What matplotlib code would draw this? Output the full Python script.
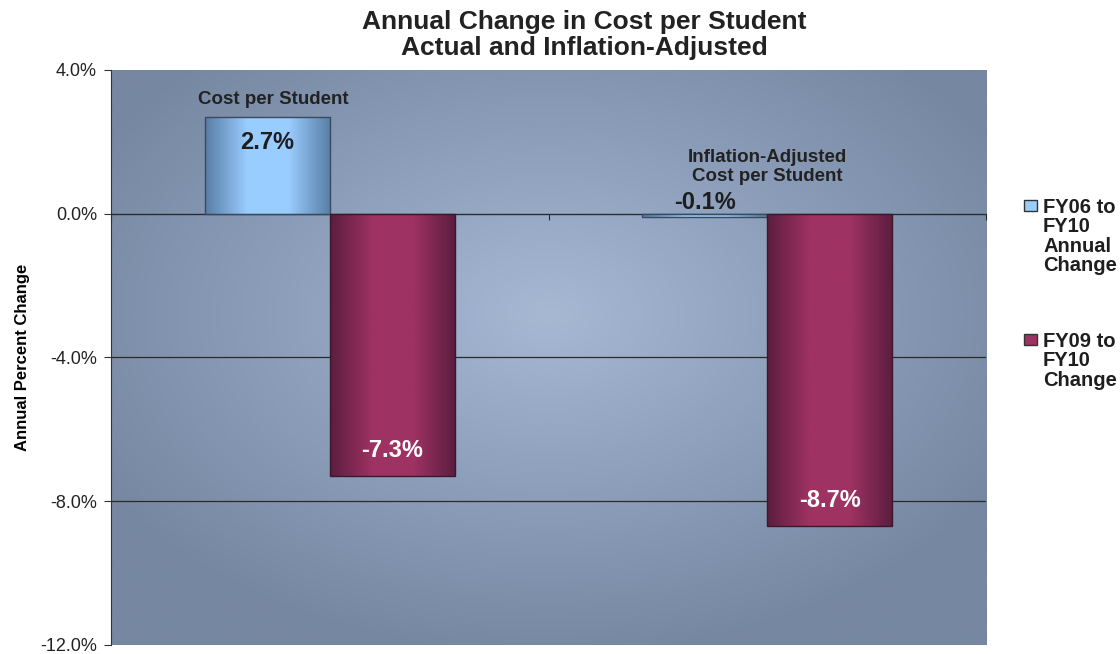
import numpy as np
import matplotlib.pyplot as plt
from matplotlib.colors import LinearSegmentedColormap
from matplotlib.patches import Rectangle

plt.rcParams['font.family'] = ['Liberation Sans', 'DejaVu Sans']

categories = ['Cost per Student', 'Inflation-Adjusted\nCost per Student']
series_names = ['FY06 to\nFY10\nAnnual\nChange', 'FY09 to\nFY10\nChange']
series_colors = ['#99ccff', '#9e3262']
fy06_fy10 = [2.7, -0.1]
fy09_fy10 = [-7.3, -8.7]
yticks = [4, 0, -4, -8, -12]

blue_cmap = LinearSegmentedColormap.from_list('b', ['#5a7ea6', '#99ccff', '#99ccff', '#5a7ea6'])
purple_cmap = LinearSegmentedColormap.from_list('p', ['#5c1e40', '#9e3262', '#9e3262', '#5c1e40'])
bg_cmap = LinearSegmentedColormap.from_list('bg', ['#a6b8d2', '#8d9fbb', '#7687a1'])

fig = plt.figure(figsize=(11.2, 6.54), dpi=100)
ax = fig.add_axes([0.0991, 0.0138, 0.7813, 0.8792])
ax.set_xlim(-0.5, 1.5)
ax.set_ylim(-12, 4)

# radial background
gx, gy = np.meshgrid(np.linspace(-1, 1, 300), np.linspace(-1, 1, 300))
r = np.sqrt(gx ** 2 + (gy - 0.15) ** 2)
ax.imshow(np.clip(r, 0, 1.2), cmap=bg_cmap, extent=[-0.5, 1.5, -12, 4],
          aspect='auto', origin='lower', zorder=0, vmin=0, vmax=1.2)

for y in [0, -4, -8]:
    ax.axhline(y, color='#2a2a2a', lw=0.9, zorder=1)

w = 0.286
x = np.arange(len(categories))
grad = np.linspace(0, 1, 100).reshape(1, -1)


def grad_bars(xs, vals, cmap, edge):
    bars = ax.bar(xs, vals, w, facecolor='none', edgecolor=edge, lw=1.0, zorder=3)
    for b in bars:
        x0, y0 = b.get_x(), b.get_y()
        im = ax.imshow(grad, cmap=cmap, extent=[x0, x0 + b.get_width(), y0, y0 + b.get_height()],
                       aspect='auto', zorder=2)
        im.set_clip_path(b)
    return bars


grad_bars(x - w / 2, fy06_fy10, blue_cmap, '#3a4a5e')
grad_bars(x + w / 2, fy09_fy10, purple_cmap, '#3a1a2a')

# value labels
for xi, v in zip(x - w / 2, fy06_fy10):
    ypos = v - 0.72 if v > 1 else 0.3
    ax.text(xi, ypos, f'{v:.1f}%', ha='center', va='center', fontsize=17,
            fontweight='bold', color='#1e1e1e', zorder=5)
for xi, v in zip(x + w / 2, fy09_fy10):
    ax.text(xi, v + 0.72, f'{v:.1f}%', ha='center', va='center', fontsize=17,
            fontweight='bold', color='white', zorder=5)

# category labels
ax.text(x[0] - 0.13, 3.17, categories[0], ha='center', va='center', fontsize=13.5,
        fontweight='bold', color='#222222', zorder=5)
ax.text(x[1], 1.3, categories[1], ha='center', va='center', fontsize=13.5,
        fontweight='bold', color='#222222', zorder=5, linespacing=1.1)

ax.set_yticks(yticks)
ax.set_yticklabels([f'{t:.1f}%' for t in yticks], fontsize=13, color='#222222')
ax.tick_params(axis='y', length=5, width=0.8, color='#333333', pad=5)

# category axis sits on the zero line
ax.spines['bottom'].set_position(('data', 0))
ax.spines['bottom'].set_color('#2a2a2a')
ax.set_xticks([-0.5, 0.5, 1.5])
ax.set_xticklabels([])
ax.tick_params(axis='x', length=4, width=0.8, color='#2a2a2a')
ax.spines['top'].set_visible(False)
ax.spines['right'].set_visible(False)
ax.spines['left'].set_color('#333333')

ax.set_ylabel('Annual Percent Change', fontsize=12, fontweight='bold',
              family=['Liberation Sans Narrow', 'Liberation Sans'])
ax.yaxis.set_label_coords(-0.092, 0.5)

fig.text(584 / 1120, 1 - 35 / 654, 'Annual Change in Cost per Student\nActual and Inflation-Adjusted',
         ha='center', va='center', fontsize=19, fontweight='bold', color='#222222',
         linespacing=1.08)

# legend on the right
for i, (name, col) in enumerate(zip(series_names, series_colors)):
    top = 198 + 134 * i
    fig.add_artist(Rectangle((1024 / 1120, 1 - (top + 13) / 654), 13 / 1120, 11 / 654,
                             transform=fig.transFigure, facecolor=col,
                             edgecolor='#333333', lw=1.0))
    fig.text(1043 / 1120, 1 - top / 654, name, ha='left', va='top', fontsize=14.5,
             fontweight='bold', color='#1e1e1e', linespacing=1.02)

fig.savefig('out.png', dpi=100)
